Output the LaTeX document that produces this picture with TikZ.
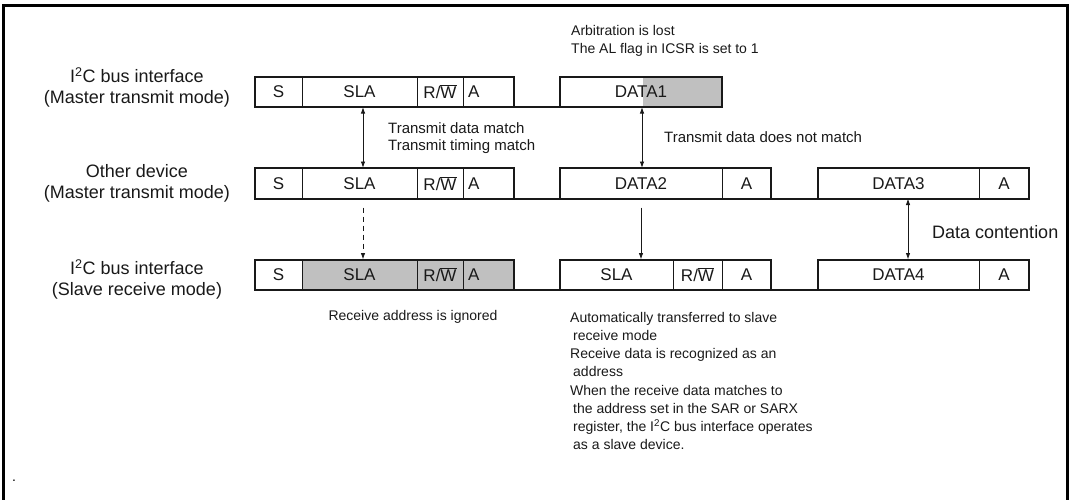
\documentclass[tikz,border=0pt]{standalone}
\usepackage{fontspec}
\setmainfont{Liberation Sans}
\usetikzlibrary{arrows.meta}
\definecolor{boxgray}{RGB}{192,192,192}
\definecolor{ink}{RGB}{25,25,25}
\newcommand{\rwbar}{R/$\overline{\mbox{W}}$}
\begin{document}
\begin{tikzpicture}[x=1pt,y=-1pt,
  cell/.style={draw=ink, line width=0.8pt, minimum height=30.5pt, inner sep=0pt, outer sep=0pt,
               anchor=north west, font=\fontsize{17}{20}\selectfont, text=ink},
  acell/.style={cell, inner xsep=5pt, text width=#1, align=left},
  boxline/.style={draw=ink, line width=2pt},
  bus/.style={draw=ink, line width=2pt},
  tip/.tip={Latex[length=6.5pt,width=4.5pt]},
  arr/.style={draw=ink, line width=0.9pt, -tip},
  darr/.style={draw=ink, line width=0.9pt, tip-tip},
  lbl/.style={align=center, font=\fontsize{18}{21}\selectfont, text=ink, inner sep=0pt},
  note/.style={align=left, anchor=west, font=\fontsize{14}{18.2}\selectfont, text=ink, inner sep=0pt}
]
\useasboundingbox (0,0) rectangle (1071,499);
\clip (0,0) rectangle (1071,499);
\draw[line width=3pt, draw=black] (3,5) rectangle (1067,540);

% ---------- Row 1 : I2C bus interface (master transmit)
\node[cell, minimum width=47] (s1) at (255,76.5) {S};
\node[cell, minimum width=115] (sla1) at (302,76.5) {SLA};
\node[cell, minimum width=46] (rw1) at (417,76.5) {\rwbar};
\node[acell=41pt] (a1) at (463,76.5) {A};
\draw[boxline] (s1.north west) rectangle (a1.south east);
\fill[boxgray] (643,76.5) rectangle (722,107);
\node[cell, minimum width=162] (d1) at (560,76.5) {DATA1};
\draw[boxline] (d1.north west) rectangle (d1.south east);
\draw[bus] (a1.south east) -- (d1.south west);

% ---------- Row 2 : other device
\node[cell, minimum width=47] (s2) at (255,168) {S};
\node[cell, minimum width=115] (sla2) at (302,168) {SLA};
\node[cell, minimum width=46] (rw2) at (417,168) {\rwbar};
\node[acell=41pt] (a2) at (463,168) {A};
\draw[boxline] (s2.north west) rectangle (a2.south east);
\node[cell, minimum width=162] (d2) at (560,168) {DATA2};
\node[cell, minimum width=49] (a2b) at (722,168) {A};
\draw[boxline] (d2.north west) rectangle (a2b.south east);
\node[cell, minimum width=161] (d3) at (818,168) {DATA3};
\node[cell, minimum width=50] (a3b) at (979,168) {A};
\draw[boxline] (d3.north west) rectangle (a3b.south east);
\draw[bus] (a2.south east) -- (d2.south west);
\draw[bus] (a2b.south east) -- (d3.south west);

% ---------- Row 3 : I2C bus interface (slave receive)
\node[cell, minimum width=47] (s3) at (255,259.5) {S};
\node[cell, minimum width=115, fill=boxgray] (sla3) at (302,259.5) {SLA};
\node[cell, minimum width=46, fill=boxgray] (rw3) at (417,259.5) {\rwbar};
\node[acell=41pt, fill=boxgray] (a3) at (463,259.5) {A};
\draw[boxline] (s3.north west) rectangle (a3.south east);
\node[cell, minimum width=113] (sla3r) at (560,259.5) {SLA};
\node[cell, minimum width=49] (rw3r) at (673,259.5) {\rwbar};
\node[cell, minimum width=49] (a3r) at (722,259.5) {A};
\draw[boxline] (sla3r.north west) rectangle (a3r.south east);
\node[cell, minimum width=161] (d4) at (818,259.5) {DATA4};
\node[cell, minimum width=50] (a4) at (979,259.5) {\raisebox{-2pt}{A}};
\draw[boxline] (d4.north west) rectangle (a4.south east);
\draw[bus] (a3.south east) -- (sla3r.south west);
\draw[bus] (a3r.south east) -- (d4.south west);

% ---------- Arrows
\draw[darr] ([xshift=3.5pt]sla1.south) -- ([xshift=3.5pt]sla2.north);
\draw[arr, dash pattern=on 5pt off 4pt] ([xshift=3.5pt,yshift=-9pt]sla2.south) -- ([xshift=3.5pt]sla3.north);
\draw[darr] ([xshift=1pt]d1.south) -- ([xshift=1pt]d2.north);
\draw[arr] ([yshift=-9pt]d2.south) -- (d2.south |- sla3r.north);
\draw[darr] ([xshift=9.5pt]d3.south) -- ([xshift=9.5pt]d4.north);

% ---------- Labels
\node[lbl] (L1) at (137,87.5) {I\textsuperscript{2}C bus interface\\(Master transmit mode)};
\node[lbl] (L2) at (137,183.5) {Other device\\(Master transmit mode)};
\node[lbl] (L3) at (137,279.5) {I\textsuperscript{2}C bus interface\\(Slave receive mode)};

\node[note, font=\fontsize{14}{18}\selectfont] (arb) at (571,41) {Arbitration is lost\\The AL flag in ICSR is set to 1};
\node[note, font=\fontsize{15}{16.5}\selectfont] (tm) at (388,138) {Transmit data match\\Transmit timing match};
\node[note, font=\fontsize{15}{18}\selectfont] (tdn) at (664,137) {Transmit data does not match};
\node[note, font=\fontsize{18}{21}\selectfont] (dc) at (932,232) {Data contention};
\node[note, anchor=center] (ign) at (413,317) {Receive address is ignored};
\node[note] (auto) at (570,381) {Automatically transferred to slave\\
\hspace*{3pt}receive mode\\
Receive data is recognized as an\\
\hspace*{3pt}address\\
When the receive data matches to\\
\hspace*{3pt}the address set in the SAR or SARX\\
\hspace*{3pt}register, the I\textsuperscript{2}C bus interface operates\\
\hspace*{3pt}as a slave device.};
\node[font=\fontsize{14}{16}\selectfont, inner sep=0pt] (dot) at (14,481) {.};
\end{tikzpicture}
\end{document}
